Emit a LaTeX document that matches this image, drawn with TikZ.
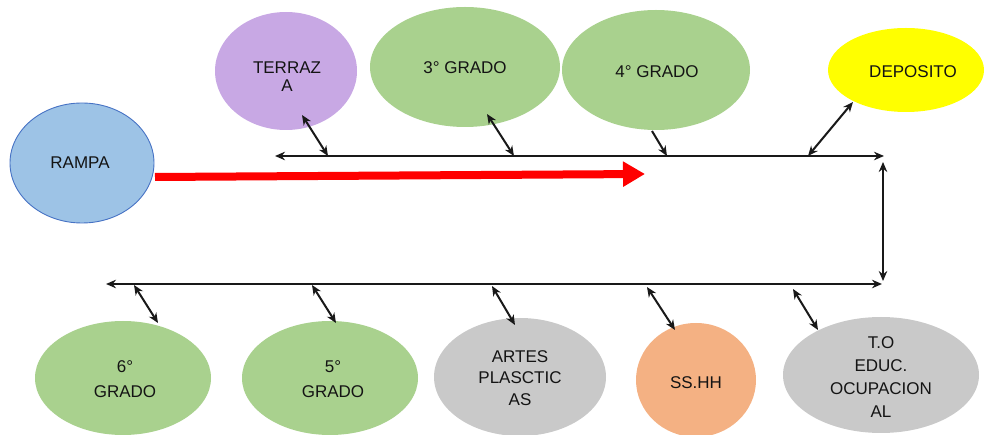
\documentclass[tikz,border=0pt]{standalone}
\usepackage{fontspec}
\setmainfont{Liberation Sans}
\usetikzlibrary{shapes.geometric,arrows.meta,calc}
\definecolor{cblue}{RGB}{157,195,230}
\definecolor{cblueb}{RGB}{70,114,196}
\definecolor{cpurple}{RGB}{200,168,228}
\definecolor{cgreen}{RGB}{169,209,142}
\definecolor{cyellow}{RGB}{255,255,0}
\definecolor{cgray}{RGB}{201,201,201}
\definecolor{corange}{RGB}{244,177,131}
\begin{document}
\begin{tikzpicture}[x=1pt,y=-1pt,
  blob/.style={ellipse,inner sep=0pt,draw=none},
  lbl/.style={align=center,font=\fontsize{17}{19}\selectfont,text=black!92,inner sep=0pt},
  tipk/.tip={Stealth[length=10pt,width=8.5pt]},
  link/.style={line width=2pt,black!90,tipk-tipk},
  onelink/.style={line width=2pt,black!90,-tipk},
  mainline/.style={line width=2.2pt,black!90,tipk-tipk},
  redarrow/.style={line width=8pt,red,-{Triangle[length=22pt,width=24pt]}}
]
\useasboundingbox (0,0) rectangle (994,435);

% ellipses
\node[blob,fill=cblue,draw=cblueb,line width=0.9pt,minimum width=144pt,minimum height=120pt] (rampa) at (82,163) {};
\node[blob,fill=cpurple,minimum width=142pt,minimum height=118pt] (terraza) at (286,71) {};
\node[blob,fill=cgreen,minimum width=190pt,minimum height=120pt] (g3) at (465,67) {};
\node[blob,fill=cgreen,minimum width=188pt,minimum height=120pt] (g4) at (656,70) {};
\node[blob,fill=cyellow,minimum width=156pt,minimum height=84pt] (dep) at (906,70) {};
\node[blob,fill=cgreen,minimum width=176pt,minimum height=114pt] (g6) at (123,378) {};
\node[blob,fill=cgreen,minimum width=176pt,minimum height=114pt] (g5) at (330,378) {};
\node[blob,fill=cgray,minimum width=172pt,minimum height=118pt] (artes) at (520,377) {};
\node[blob,fill=corange,minimum width=120pt,minimum height=114pt] (sshh) at (696,380) {};
\node[blob,fill=cgray,minimum width=196pt,minimum height=116pt] (to) at (881,375) {};

% texts
\node[lbl] (trampa) at (80,163) {RAMPA};
\node[lbl] (tterraza) at (287,77) {TERRAZ\\[-1pt]A};
\node[lbl] (tg3) at (465,68) {3° GRADO};
\node[lbl] (tg4) at (657,72) {4° GRADO};
\node[lbl] (tdep) at (913,72) {DEPOSITO};
\node[lbl] (tg6) at (125,379) {6°\\[6pt]GRADO};
\node[lbl] (tg5) at (333,379) {5°\\[6pt]GRADO};
\node[lbl] (tartes) at (520,378) {ARTES\\[2.5pt]PLASCTIC\\[2.5pt]AS};
\node[lbl] (tsshh) at (696,383) {SS.HH};
\node[lbl] (tto) at (881,377) {T.O\\[4pt]EDUC.\\[4pt]OCUPACION\\[4pt]AL};

% main corridor lines
\coordinate (tl) at (275,156);
\coordinate (tr) at (884,156);
\coordinate (bl) at (106,284);
\coordinate (br) at (882,284);
\coordinate (v1) at (883,162);
\coordinate (v2) at (883,281);
\draw[mainline] (tl) -- (tr);
\draw[mainline] (bl) -- (br);
\draw[mainline] (v1) -- (v2);

% red arrow
\coordinate (redtip) at (645,174);
\draw[redarrow] ($(rampa)+(73,14)$) -- (redtip);

% connectors top
\coordinate (c1) at (328,156);
\coordinate (c2) at (514,156);
\coordinate (c3) at (667,156);
\coordinate (c4) at (808,156);
\draw[link] (c1) -- ($(terraza)+(16,44)$);
\draw[link] (c2) -- ($(g3)+(22,47)$);
\draw[onelink] ($(g4)+(-4,61)$) -- (c3);
\draw[link] (c4) -- ($(dep)+(-53,32)$);

% connectors bottom
\coordinate (d1) at (134,285);
\coordinate (d2) at (312,285);
\coordinate (d3) at (492,286);
\coordinate (d4) at (647,287);
\coordinate (d5) at (793,289);
\draw[link] (d1) -- ($(g6)+(35,-55)$);
\draw[link] (d2) -- ($(g5)+(6,-55)$);
\draw[link] (d3) -- ($(artes)+(-5,-52)$);
\draw[link] (d4) -- ($(sshh)+(-21,-50)$);
\draw[link] (d5) -- ($(to)+(-63,-45)$);
\end{tikzpicture}
\end{document}
